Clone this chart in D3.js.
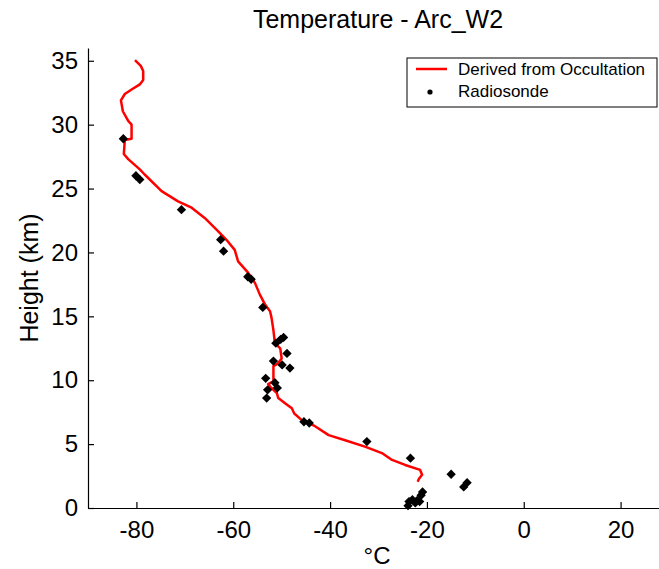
<!DOCTYPE html>
<html>
<head>
<meta charset="utf-8">
<script src="https://cdn.jsdelivr.net/npm/d3@7/dist/d3.min.js"></script>
<style>
  body { margin: 0; background: #fff; }
  svg { font-family: "Liberation Sans", Arial, sans-serif; }
  .axis path, .axis line { stroke: #000; stroke-width: 1.2; }
  .axis text { font-size: 24px; fill: #000; }
</style>
</head>
<body>
<div class="chart"></div>
<script>
// derived from occultation (temperature degC, height km)
const occTemp = [-80.3, -79.1, -78.6, -78.6, -79.3, -81.0, -82.4, -83.2, -82.8, -81.7,
  -81.0, -81.0, -82.4, -82.6, -81.7, -79.3, -78.3, -74.8, -71.4, -68.6,
  -65.9, -63.1, -61.2, -59.7, -59.0, -56.9, -55.5, -54.5, -53.4, -52.4,
  -52.1, -51.7, -51.4, -50.3, -50.0, -50.8, -51.7, -51.7, -51.7, -52.8,
  -52.4, -51.0, -50.7, -49.3, -47.9, -47.4, -45.9, -43.1, -40.3, -36.9,
  -32.8, -29.3, -27.2, -24.5, -21.4, -21.0, -21.7, -21.9];
const occHeight = [35.05, 34.6, 34.2, 33.5, 33.15, 32.75, 32.4, 31.9, 31.05, 30.3,
  30.0, 28.9, 28.8, 27.7, 27.3, 26.5, 26.1, 24.8, 24.0, 23.5,
  22.7, 21.65, 20.9, 20.2, 19.3, 18.4, 17.6, 16.7, 15.9, 15.4,
  14.9, 13.9, 12.9, 12.5, 11.7, 11.3, 11.1, 10.3, 9.9, 9.7,
  9.5, 9.0, 8.6, 8.2, 7.8, 7.4, 6.9, 6.4, 5.7, 5.3,
  4.8, 4.3, 3.76, 3.37, 2.98, 2.6, 2.25, 2.06];

// radiosonde
const sondeTemp = [-82.7, -80.1, -79.3, -70.7, -62.6, -62.0, -57.0, -56.3, -53.9, -51.2,
  -50.2, -49.6, -48.9, -51.7, -49.9, -48.3, -53.3, -51.4, -50.9, -52.9,
  -53.1, -45.4, -44.3, -32.4, -23.4, -15.0, -12.4, -11.7, -20.9, -21.2,
  -23.0, -23.7, -22.4, -23.9, -22.0, -21.5];
const sondeHeight = [28.9, 26.0, 25.7, 23.35, 21.0, 20.1, 18.1, 17.9, 15.7, 12.9,
  13.2, 13.35, 12.1, 11.5, 11.2, 10.95, 10.15, 9.8, 9.4, 9.25,
  8.6, 6.75, 6.65, 5.2, 3.9, 2.64, 1.65, 1.98, 1.25, 1.0,
  0.65, 0.5, 0.4, 0.18, 0.6, 0.5];

const xTicks = [-80, -60, -40, -20, 0, 20];
const yTicks = [0, 5, 10, 15, 20, 25, 30, 35];

const W = 659, H = 569;
const margin = { top: 48, right: -10, bottom: 61, left: 88 };
const width = W - margin.left - margin.right,
  height = H - margin.top - margin.bottom;

const svg = d3.select(".chart").append("svg")
  .attr("width", W).attr("height", H);

const g = svg.append("g")
  .attr("transform", "translate(" + margin.left + "," + margin.top + ")");

let x = d3.scaleLinear().domain([-90, 30]).range([0, width]);
let y = d3.scaleLinear().domain([0, 36]).range([height, 0]);

// AXIS
g.append("g")
  .attr("class", "axis x-axis")
  .attr("transform", "translate(0," + height + ")")
  .call(d3.axisBottom(x).tickValues(xTicks).tickSize(-6).tickPadding(13).tickSizeOuter(0)
    .tickFormat(d3.format("d")));

g.append("g")
  .attr("class", "axis y-axis")
  .call(d3.axisLeft(y).tickValues(yTicks).tickSize(-6).tickPadding(10).tickSizeOuter(0));

g.selectAll(".x-axis text").text(d => d < 0 ? "-" + Math.abs(d) : d);

// occultation line
const occ = occTemp.map((t, i) => [t, occHeight[i]]);
g.append("path")
  .datum(occ)
  .attr("fill", "none")
  .attr("stroke", "#ff0000")
  .attr("stroke-width", 2.5)
  .attr("stroke-linejoin", "round")
  .attr("d", d3.line().x(d => x(d[0])).y(d => y(d[1])));

// radiosonde points
const sonde = sondeTemp.map((t, i) => [t, sondeHeight[i]]);
g.selectAll(".pt")
  .data(sonde)
  .enter()
  .append("rect")
  .attr("class", "pt")
  .attr("x", -3.3).attr("y", -3.3)
  .attr("width", 6.6).attr("height", 6.6)
  .attr("fill", "#000")
  .attr("transform", d => "translate(" + x(d[0]) + "," + y(d[1]) + ") rotate(45)");

// titles
svg.append("text")
  .attr("x", 378).attr("y", 28)
  .attr("text-anchor", "middle")
  .attr("font-size", 25)
  .text("Temperature - Arc_W2");

svg.append("text")
  .attr("x", 377).attr("y", 564)
  .attr("text-anchor", "middle")
  .attr("font-size", 24)
  .text("°C");

svg.append("text")
  .attr("transform", "translate(38,278) rotate(-90)")
  .attr("text-anchor", "middle")
  .attr("font-size", 25)
  .text("Height (km)");

// legend
const leg = svg.append("g").attr("transform", "translate(407,58)");
leg.append("rect")
  .attr("width", 250).attr("height", 49)
  .attr("fill", "#fff").attr("stroke", "#000").attr("stroke-width", 1);
leg.append("line")
  .attr("x1", 9).attr("x2", 40).attr("y1", 11).attr("y2", 11)
  .attr("stroke", "#ff0000").attr("stroke-width", 2.5);
leg.append("circle")
  .attr("cx", 23).attr("cy", 34).attr("r", 2.6).attr("fill", "#000");
leg.append("text").attr("x", 51).attr("y", 17).attr("font-size", 17).text("Derived from Occultation");
leg.append("text").attr("x", 51).attr("y", 39).attr("font-size", 17).text("Radiosonde");
</script>
</body>
</html>
